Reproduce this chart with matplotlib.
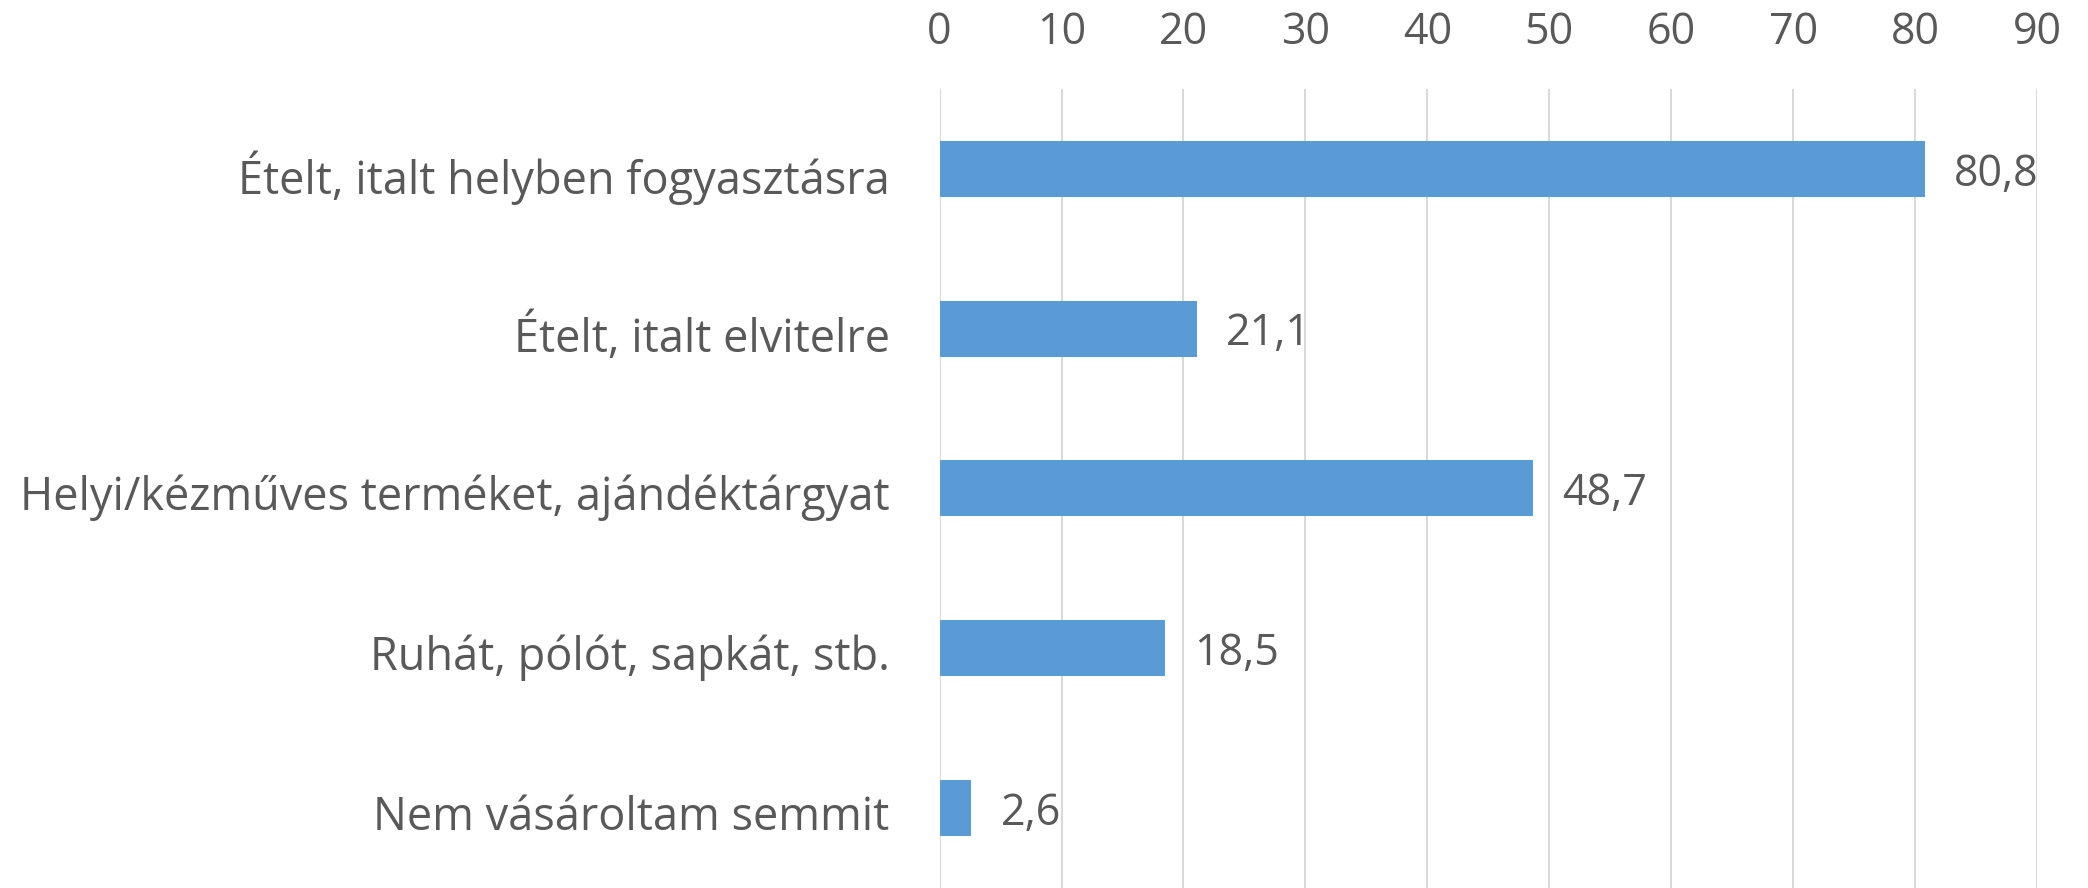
import matplotlib
matplotlib.use("Agg")
import matplotlib.pyplot as plt
import matplotlib.transforms as mtransforms

# Data
categories = [
    "Ételt, italt helyben fogyasztásra",
    "Ételt, italt elvitelre",
    "Helyi/kézműves terméket, ajándéktárgyat",
    "Ruhát, pólót, sapkát, stb.",
    "Nem vásároltam semmit",
]
values = [80.8, 21.1, 48.7, 18.5, 2.6]
xticks = [0, 10, 20, 30, 40, 50, 60, 70, 80, 90]

plt.rcParams['font.family'] = ['Open Sans', 'DejaVu Sans']
text_color = '#595959'

fig = plt.figure(figsize=(20.88, 8.88), dpi=100)
ax = fig.add_axes([0.450, 0.0, 0.5256, 0.9])

ypos = list(range(len(categories)))
ax.barh(ypos, values, height=0.35, color='#5B9BD5', zorder=3)
ax.set_ylim(len(categories) - 0.5, -0.5)
ax.set_xlim(0, 90)

ax.set_yticks(ypos)
ax.set_yticklabels(categories)
ax.set_xticks(xticks)
ax.set_xticklabels([str(t) for t in xticks])
ax.xaxis.tick_top()
ax.tick_params(axis='y', length=0, pad=36, labelsize=32.5, labelcolor=text_color)
ax.tick_params(axis='x', length=0, pad=24, labelsize=31, labelcolor=text_color)

# shift category labels slightly down, like the original
shift = mtransforms.ScaledTranslation(0, -4 / 100, fig.dpi_scale_trans)
for lbl in ax.get_yticklabels():
    lbl.set_transform(lbl.get_transform() + shift)

ax.grid(axis='x', color='#D9D9D9', linewidth=1.5, zorder=0)
for s in ax.spines.values():
    s.set_visible(False)

for y, v in zip(ypos, values):
    ax.annotate(("%.1f" % v).replace('.', ','), xy=(v, y), xytext=(21, -4),
                textcoords='offset points', va='center', ha='left',
                fontsize=31, color=text_color)

fig.savefig('out.png', dpi=100)
